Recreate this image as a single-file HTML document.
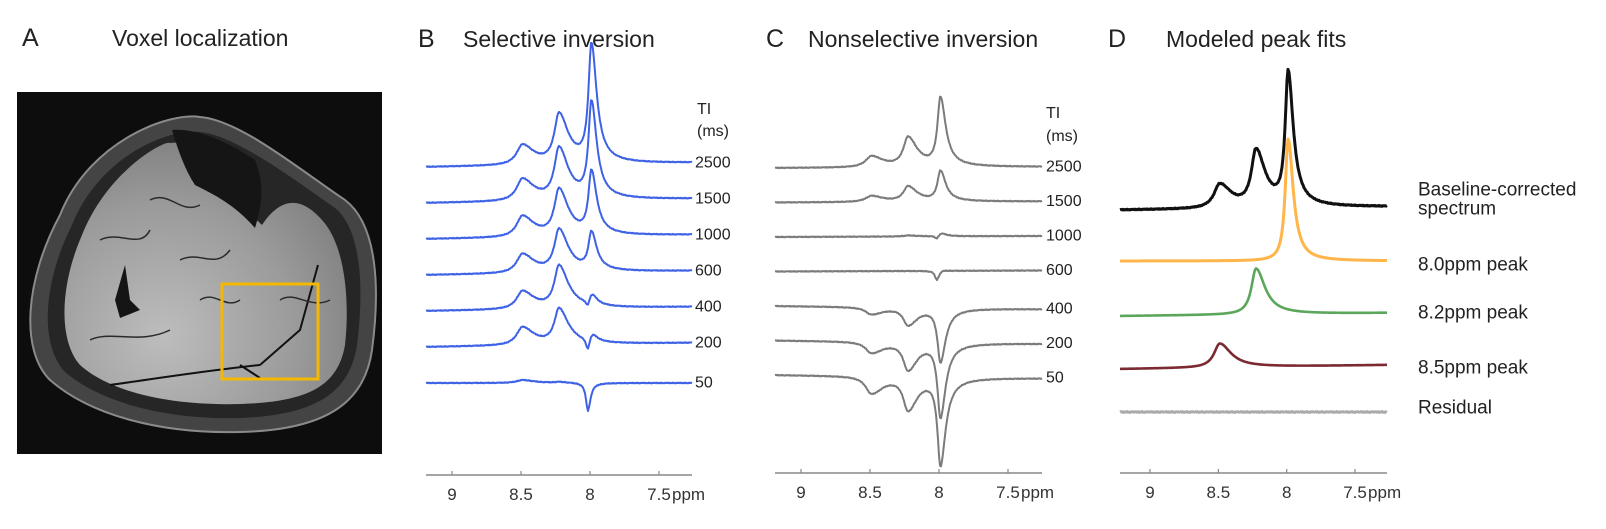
<!DOCTYPE html>
<html><head><meta charset="utf-8">
<style>
html,body{margin:0;padding:0;background:#fff;}
svg{display:block;font-family:"Liberation Sans",Arial,sans-serif;}
</style></head>
<body>
<svg id="fig" width="1606" height="529" viewBox="0 0 1606 529" xmlns="http://www.w3.org/2000/svg">
  <g>
    <text x="22" y="46" font-size="25" fill="#222">A</text>
    <text x="112" y="46" font-size="23" fill="#222">Voxel localization</text>
    <g>
      <defs>
        <radialGradient id="mus" cx="0.35" cy="0.75" r="0.8">
          <stop offset="0" stop-color="#bdbdbd"/>
          <stop offset="0.6" stop-color="#9a9a9a"/>
          <stop offset="1" stop-color="#7a7a7a"/>
        </radialGradient>
      </defs>
      <rect x="17" y="92" width="365" height="362" fill="#0d0d0d"/>
      <path d="M60,215 C90,140 170,112 200,117 C240,120 300,170 345,200 C378,225 380,290 372,350 C365,400 330,430 240,432 C160,434 90,415 50,380 C20,350 25,280 60,215 Z" fill="#444" stroke="#8a8a8a" stroke-width="2"/>
      <path d="M72,225 C100,155 170,128 200,132 C235,135 295,180 335,208 C362,230 364,290 357,345 C350,390 320,415 240,418 C165,420 100,402 65,372 C40,345 42,285 72,225 Z" fill="#262626"/>
      <path d="M82,235 C108,170 165,140 170,143 C200,140 215,160 180,130 L172,130 L230,195 L262,225 C280,198 300,195 322,220 C345,245 350,300 345,345 C338,385 310,402 240,404 C170,406 110,392 80,365 C58,340 60,285 82,235 Z" fill="url(#mus)"/>
      <path d="M172,130 C195,128 225,140 255,160 C265,185 262,205 255,228 C235,205 215,195 195,185 C185,170 178,150 172,130 Z" fill="#151515"/>
      <path d="M115,300 L125,265 L130,300 L140,310 L120,318 Z" fill="#151515"/>
      <path d="M110,385 C160,378 210,370 260,365 M240,365 L260,378 M260,365 L300,330 L318,265" stroke="#111" stroke-width="2" fill="none"/>
      <path d="M100,240 C120,230 140,250 150,230 M180,260 C200,250 215,270 230,250 M90,340 C110,330 140,345 170,330 M280,300 C295,290 310,310 330,300 M150,200 C170,190 180,215 200,205 M200,300 C215,290 225,310 240,300" stroke="#2a2a2a" stroke-width="1.5" fill="none"/>
      <rect x="222" y="284" width="96" height="95" fill="none" stroke="#f5b800" stroke-width="3"/>
    </g>
  </g>
  <g id="panelB">
    <text x="418" y="47" font-size="25" fill="#222">B</text>
    <text x="463" y="47" font-size="23" fill="#222">Selective inversion</text>
    <text x="697" y="114" font-size="16" fill="#222">TI</text>
    <text x="697" y="136" font-size="16" fill="#222">(ms)</text>
  </g>
  <g id="panelC">
    <text x="766" y="47" font-size="25" fill="#222">C</text>
    <text x="808" y="47" font-size="23" fill="#222">Nonselective inversion</text>
    <text x="1046" y="118" font-size="16" fill="#222">TI</text>
    <text x="1046" y="141" font-size="16" fill="#222">(ms)</text>
  </g>
  <g id="panelD">
    <text x="1108" y="47" font-size="25" fill="#222">D</text>
    <text x="1166" y="47" font-size="23" fill="#222">Modeled peak fits</text>
  </g>
</svg>
<script>
// ---- data ----
const tiLabels = ["2500","1500","1000","600","400","200","50"];
const bAmp85 = [20, 22, 21, 19, 18, 18, 3];
const bAmp82 = [49, 51, 46, 42, 42, 35, 1];
const bAmp80 = [117, 95, 62, 37, 12, 10, 0];
const bAmp80b = [0, 0, 0, 0, -8, -14, -28];
const cAmp85 = [11, 6, 0, 0, -7, -11, -17];
const cAmp82 = [29, 15, 1, 0, -17, -27, -32];
const cAmp80 = [68, 30, 4, 2, -53, -73, -86];
const cAmp80b = [0, 0, -4, -10, 0, 0, 0];
const dNames = ["Baseline-corrected spectrum","8.0ppm peak","8.2ppm peak","8.5ppm peak","Residual"];
const dAmp85 = [24, 0, 0, 24, 0];
const dAmp82 = [56, 0, 46, 0, 0];
const dAmp80 = [132, 122, 0, 0, 0];
const residualVals = [0,1.2,-0.8,0.9,-1.1,0.5,-0.6,1.3,-0.9,0.4,-1.2,0.8,-0.3,1.0,-0.7];
const tickVals = [9, 8.5, 8, 7.5];
const tickText = ["9","8.5","8","7.5"];

const NS = "http://www.w3.org/2000/svg";
const C85 = 8.49, C82 = 8.225, C80 = 7.99, C80b = 8.015;
function lor(p, c, w, tail) {
  const ww = p < c ? w * tail : w;
  const d = p - c;
  return ww * ww / (ww * ww + d * d);
}
function signal(p, a85, a82, a80, a80b) {
  return a85 * lor(p, C85, 0.05, 2.0) + a82 * lor(p, C82, 0.04, 2.0) +
         a80 * lor(p, C80, 0.025, 1.8) + a80b * lor(p, C80b, 0.017, 1.3);
}
function makeX(x9, k) { return p => x9 + (9 - p) * k; }
function makeP(x9, k) { return x => 9 - (x - x9) / k; }
function yOf(base, v) { return base - v; }

function drawAxis(g, x0, x1, y, xs, prefix) {
  const ax = document.createElementNS(NS, "line");
  ax.setAttribute("x1", x0); ax.setAttribute("x2", x1);
  ax.setAttribute("y1", y); ax.setAttribute("y2", y);
  ax.setAttribute("stroke", "#888"); ax.setAttribute("stroke-width", "1.5");
  
  
  g.appendChild(ax);
  tickVals.forEach((v, i) => {
    const tx = xs(v);
    const t = document.createElementNS(NS, "line");
    t.setAttribute("x1", tx); t.setAttribute("x2", tx);
    t.setAttribute("y1", y); t.setAttribute("y2", y - 4);
    t.setAttribute("stroke", "#888"); t.setAttribute("stroke-width", "1.2");
    
    
    g.appendChild(t);
    const lb = document.createElementNS(NS, "text");
    lb.setAttribute("x", tx); lb.setAttribute("y", y + 25);
    lb.setAttribute("font-size", "17"); lb.setAttribute("fill", "#333");
    lb.setAttribute("text-anchor", "middle");
    lb.textContent = tickText[i];
    
    
    g.appendChild(lb);
  });
  const u = document.createElementNS(NS, "text");
  u.setAttribute("x", xs(7.5) + 13); u.setAttribute("y", y + 25);
  u.setAttribute("font-size", "17"); u.setAttribute("fill", "#333");
  u.textContent = "ppm";
  
  
  g.appendChild(u);
}

function drawTrace(g, x0, x1, pOf, base, tilt, fn, color, w, name, noise) {
  let d = "";
  for (let x = x0; x <= x1; x += 1) {
    const p = pOf(x);
    let v = fn(p, x);
    if (noise) v += noise[(x - x0) % noise.length] * 0.5;
    const y = yOf(base + tilt * (x - x0) / (x1 - x0), v);
    d += (x === x0 ? "M" : "L") + x + "," + y.toFixed(2);
  }
  const path = document.createElementNS(NS, "path");
  path.setAttribute("d", d);
  path.setAttribute("fill", "none");
  path.setAttribute("stroke", color);
  path.setAttribute("stroke-width", w);
  path.setAttribute("stroke-linejoin", "round");
  
  
  g.appendChild(path);
}

function addLabel(g, x, y, txt, name, size) {
  const t = document.createElementNS(NS, "text");
  t.setAttribute("x", x); t.setAttribute("y", y);
  t.setAttribute("font-size", size || "16"); t.setAttribute("fill", "#222");
  t.setAttribute("dominant-baseline", "central");
  t.textContent = txt;
  
  
  g.appendChild(t);
}

const smallNoise = [0,0.6,-0.4,0.8,-0.7,0.3,-0.5,0.9,-0.6,0.2,-0.8,0.5];

(function () {
  const g = document.getElementById("panelB");
  const xs = makeX(452, 138), ps = makeP(452, 138);
  drawAxis(g, 426, 692, 475, xs, "panel-b");
  tiLabels.forEach((lab, i) => {
    const base = 167 + i * 36;
    const tilt = i < 6 ? -4 : 0;
    drawTrace(g, 426, 692, ps, base, tilt,
      p => signal(p, bAmp85[i], bAmp82[i], bAmp80[i], bAmp80b[i]),
      "#3d62e6", "2", "selective-spectrum-ti-" + lab, smallNoise);
    addLabel(g, 695, base + tilt, lab, "panel-b-ti-value", "16");
  });
})();

(function () {
  const g = document.getElementById("panelC");
  const xs = makeX(801, 138), ps = makeP(801, 138);
  drawAxis(g, 775, 1042, 473, xs, "panel-c");
  tiLabels.forEach((lab, i) => {
    const base = 168 + i * 34.5;
    const tilt = i >= 4 ? 3 : -1;
    drawTrace(g, 775, 1042, ps, base, tilt,
      p => signal(p, cAmp85[i], cAmp82[i], cAmp80[i], cAmp80b[i]),
      "#7b7b7b", "2", "nonselective-spectrum-ti-" + lab, smallNoise);
    addLabel(g, 1046, base + tilt, lab, "panel-c-ti-value", "16");
  });
})();

(function () {
  const g = document.getElementById("panelD");
  const xs = makeX(1150, 136.7), ps = makeP(1150, 136.7);
  drawAxis(g, 1120, 1387, 473, xs, "panel-d");
  const bases = [210, 261, 316, 369, 412];
  const tilts = [-3, 0, -3, -4, 0];
  const colors = ["#111", "#ffb54a", "#5ca65c", "#7a2a30", "#aaaaaa"];
  const widths = ["3", "3", "2.6", "2.6", "2.6"];
  dNames.forEach((nm, i) => {
    const noise = i === 0 ? smallNoise : (i === 4 ? residualVals : null);
    drawTrace(g, 1120, 1387, ps, bases[i], tilts[i],
      p => signal(p, dAmp85[i], dAmp82[i], dAmp80[i], 0),
      colors[i], widths[i], "fit-trace-" + i, noise);
  });
  addLabel(g, 1418, 190, "Baseline-corrected", "legend-baseline-corrected", "19");
  addLabel(g, 1418, 209, "spectrum", "legend-spectrum", "19");
  addLabel(g, 1418, 265, "8.0ppm peak", "legend-8-0ppm", "19");
  addLabel(g, 1418, 313, "8.2ppm peak", "legend-8-2ppm", "19");
  addLabel(g, 1418, 368, "8.5ppm peak", "legend-8-5ppm", "19");
  addLabel(g, 1418, 408, "Residual", "legend-residual", "19");
})();
</script>
</body></html>
